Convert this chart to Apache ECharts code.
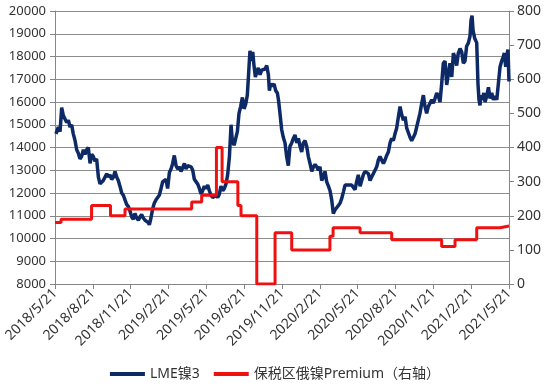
<!DOCTYPE html>
<html>
<head>
<meta charset="utf-8">
<script src="https://cdn.jsdelivr.net/npm/echarts@6/dist/echarts.min.js"></script>
<style>
html,body{margin:0;padding:0;background:#fff;}
#c{width:550px;height:388px;}
</style>
</head>
<body>
<div id="c"></div>
<script>
// x positions are months elapsed since 2018/5/21
var tickLabels = ['2018/5/21','2018/8/21','2018/11/21','2019/2/21','2019/5/21','2019/8/21','2019/11/21','2020/2/21','2020/5/21','2020/8/21','2020/11/21','2021/2/21','2021/5/21'];

var lmeMonths = [0.08,0.26,0.40,0.53,0.66,0.79,0.93,1.06,1.19,1.32,1.45,1.59,1.72,1.85,1.98,2.11,2.25,2.38,2.51,2.64,2.78,2.91,3.04,3.17,3.30,3.44,3.57,3.70,3.83,3.97,4.10,4.23,4.36,4.49,4.63,4.76,4.89,5.02,5.15,5.29,5.42,5.55,5.68,5.82,5.95,6.08,6.21,6.34,6.48,6.61,6.74,6.87,7.00,7.14,7.27,7.40,7.48,7.61,7.74,7.87,8.01,8.14,8.27,8.41,8.54,8.67,8.80,8.93,9.07,9.20,9.33,9.46,9.60,9.73,9.86,9.99,10.12,10.26,10.39,10.52,10.65,10.79,10.92,11.05,11.18,11.31,11.45,11.58,11.71,11.84,11.97,12.11,12.24,12.37,12.50,12.64,12.77,12.90,13.03,13.16,13.30,13.43,13.56,13.69,13.83,13.96,14.06,14.20,14.33,14.46,14.59,14.72,14.86,14.99,15.12,15.25,15.38,15.46,15.57,15.68,15.78,15.89,15.99,16.12,16.26,16.39,16.52,16.65,16.79,16.92,17.00,17.10,17.24,17.37,17.50,17.63,17.72,17.84,17.97,18.10,18.24,18.37,18.50,18.63,18.77,18.90,19.03,19.17,19.30,19.43,19.56,19.69,19.83,19.96,20.09,20.22,20.36,20.49,20.62,20.75,20.88,21.01,21.15,21.28,21.41,21.54,21.68,21.81,21.94,22.07,22.20,22.33,22.47,22.60,22.73,22.87,23.00,23.13,23.26,23.39,23.52,23.66,23.79,23.92,24.05,24.19,24.32,24.45,24.58,24.72,24.85,24.98,25.11,25.24,25.38,25.51,25.64,25.77,25.90,26.04,26.17,26.30,26.43,26.57,26.70,26.83,26.96,27.09,27.23,27.36,27.49,27.62,27.76,27.89,28.02,28.15,28.28,28.42,28.55,28.68,28.81,28.94,29.08,29.21,29.34,29.47,29.60,29.74,29.87,30.00,30.13,30.27,30.40,30.53,30.66,30.79,30.93,31.06,31.19,31.32,31.46,31.59,31.72,31.85,31.98,32.12,32.25,32.38,32.51,32.64,32.78,32.91,32.99,33.07,33.15,33.28,33.44,33.54,33.62,33.70,33.78,33.89,34.00,34.10,34.23,34.37,34.50,34.63,34.76,34.89,35.03,35.16,35.29,35.42,35.55,35.63,35.74,35.84,35.92,36.00];
var lmeValues = [14600,14900,14700,15750,15400,15350,15100,15200,14900,15000,14600,14300,13900,13750,13500,13600,13900,13700,13900,14000,13300,13700,13600,13400,13500,12700,12400,12400,12550,12600,12850,12700,12800,12600,12700,12950,12700,12550,12300,12000,11900,11700,11500,11400,11200,10950,10850,11100,10900,10800,10950,11050,10900,10800,10850,10700,10600,10900,11300,11550,11700,11650,11900,12200,12500,12450,12600,12200,12900,13050,13300,13650,13200,13050,13150,12950,13100,13300,13050,13200,13250,13150,13000,12600,12500,12400,12200,11950,12100,12300,12200,12350,12100,11900,11800,11800,11900,11800,11950,12300,12100,12200,12400,12800,13600,15000,14300,14100,14400,14700,15500,15800,16200,15700,15900,16300,17500,18250,17800,18200,17600,17100,17300,17500,17200,17400,17350,17450,17600,17200,16500,16800,16700,16800,16500,16400,16100,15500,14800,14450,14200,13600,13200,14050,14200,14400,14550,14200,14400,14050,13800,14200,14300,14050,13600,13300,12950,13150,13250,13150,13000,13150,12550,12700,12950,12500,12300,12100,11700,11100,11250,11300,11450,11550,11750,12050,12350,12400,12350,12400,12350,12400,12150,12500,12800,12300,12550,12800,12950,13000,12850,12550,12700,12850,12800,13150,13450,13600,13550,13300,13450,13650,13800,14200,14400,14300,14600,14850,15350,15800,15450,15200,15350,14850,14900,14450,14300,14450,14600,14900,15200,15500,15950,16300,15800,15500,15800,15950,16100,15950,16150,16400,16250,16000,16800,17700,17800,16750,16800,17700,17100,18150,17950,17600,18150,18350,18200,17700,17800,18450,18600,18900,19600,19800,19150,18800,18600,16800,16100,15850,16300,16100,16400,16000,16250,16650,16150,16400,16100,16250,16100,16150,17550,17800,18000,18150,17550,18100,18300,16900];

var premMonths = [0,0.48,2.9,4.4,5.55,10.84,11.63,12.8,13.25,14.5,14.75,16.0,17.45,18.77,21.8,22.05,24.19,26.7,30.66,31.72,33.44,35.29,36.0];
var premValues = [180,190,230,200,220,240,260,400,300,230,200,0,150,100,140,165,150,130,110,130,165,170,170];

function pairs(xs, ys){ return xs.map(function(x,i){ return [x, ys[i]]; }); }

var chart = echarts.init(document.getElementById('c'), null, {renderer:'canvas'});
var axisColor = '#868686';
var textColor = '#333333';
var fontFam = '"Noto Sans", "Noto Sans CJK SC", sans-serif';
chart.setOption({
  animation:false,
  backgroundColor:'#ffffff',
  grid:{left:55, right:41, top:11, bottom:104, containLabel:false},
  legend:{
    bottom:2, left:'center',
    itemWidth:35, itemHeight:4, itemGap:14,
    textStyle:{color:textColor, fontSize:14, fontFamily:fontFam},
    data:[{name:'LME镍3', icon:'rect'},{name:'保税区俄镍Premium（右轴）', icon:'rect'}]
  },
  xAxis:{
    type:'value', min:0, max:36, interval:3,
    axisLine:{show:true, lineStyle:{color:axisColor, width:1}},
    axisTick:{show:true, inside:false, length:5, lineStyle:{color:axisColor}},
    splitLine:{show:false},
    axisLabel:{rotate:45, fontSize:14, color:textColor, fontFamily:fontFam, margin:7,
      formatter:function(v){ return tickLabels[Math.round(v/3)] || ''; }}
  },
  yAxis:[{
    type:'value', min:8000, max:20000, interval:1000, position:'left',
    axisLine:{show:true, lineStyle:{color:axisColor}},
    axisTick:{show:true, length:5, lineStyle:{color:axisColor}},
    splitLine:{show:true, lineStyle:{color:'#8c8c8c', width:1}},
    axisLabel:{fontSize:13, color:textColor, fontFamily:fontFam, margin:9,
      formatter:function(v){ return String(v); }}
  },{
    type:'value', min:0, max:800, interval:100, position:'right',
    axisLine:{show:true, lineStyle:{color:axisColor}},
    axisTick:{show:true, length:5, lineStyle:{color:axisColor}},
    splitLine:{show:false},
    axisLabel:{fontSize:14, color:textColor, fontFamily:fontFam, margin:8,
      formatter:function(v){ return String(v); }}
  }],
  series:[{
    name:'LME镍3', type:'line', yAxisIndex:0, showSymbol:false, symbol:'none',
    lineStyle:{color:'#0d2a66', width:3.5}, itemStyle:{color:'#0d2a66'},
    data:pairs(lmeMonths, lmeValues)
  },{
    name:'保税区俄镍Premium（右轴）', type:'line', yAxisIndex:1, showSymbol:false, symbol:'none',
    step:'end',
    lineStyle:{color:'#f01010', width:3}, itemStyle:{color:'#f01010'},
    data:pairs(premMonths, premValues)
  }]
});
</script>
</body>
</html>
